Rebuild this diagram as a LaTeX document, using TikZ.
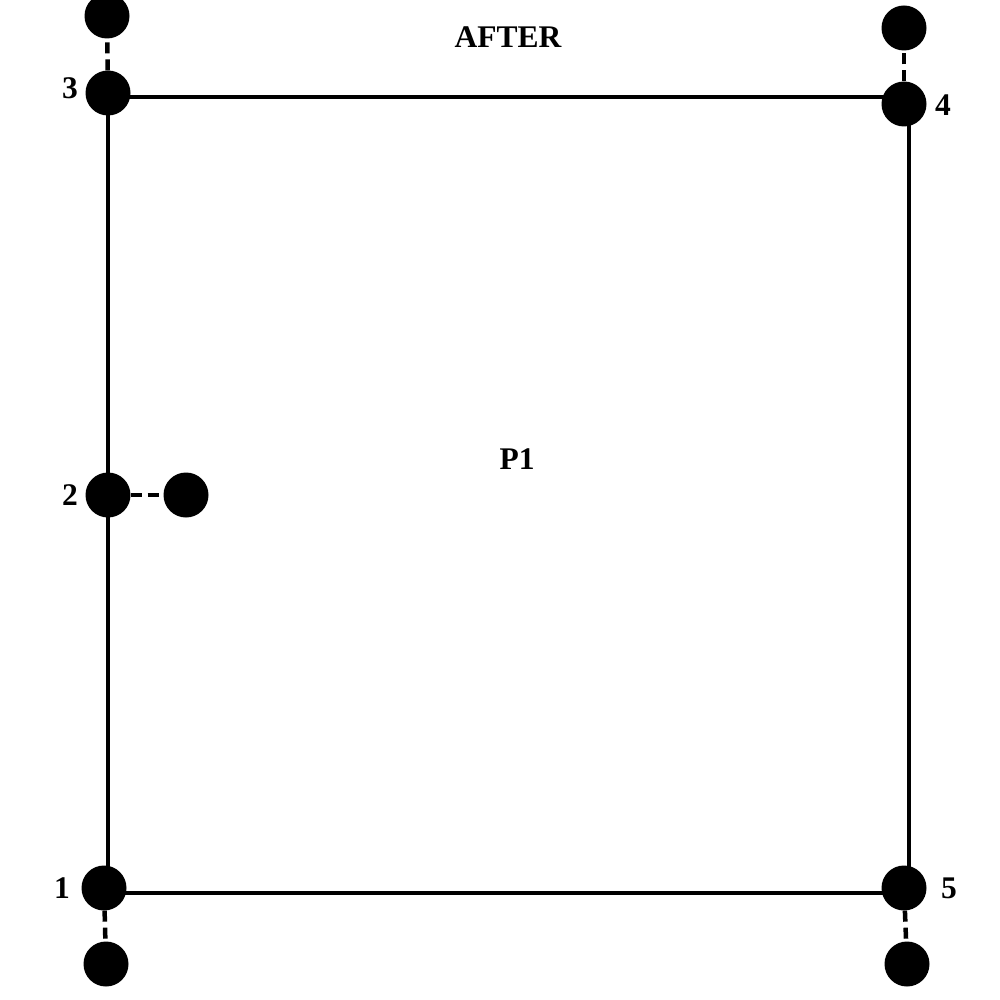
\documentclass[tikz,border=0pt]{standalone}
\usepackage{fontspec}
\setmainfont{Liberation Serif}
\begin{document}
\begin{tikzpicture}[x=1pt,y=-1pt,
  dot/.style={circle,fill=black,draw=none,minimum size=45pt,inner sep=0pt},
  lbl/.style={font=\fontsize{31.5}{34}\selectfont\bfseries,inner sep=0pt},
  edge/.style={line width=4.5pt},
  link/.style={line width=4.5pt,dash pattern=on 11pt off 6pt}]
\useasboundingbox (0,0) rectangle (1000,1000);
% frame corners
\coordinate (c1) at (108,893);
\coordinate (c3) at (108,97);
\coordinate (c4) at (909,97);
\coordinate (c5) at (909,893);
\draw[edge,line join=miter] (c1) -- (c3) -- (c4) -- (c5) -- cycle;
% main points
\node[dot] (n1) at (104,888) {};
\node[dot] (n2) at (108,495) {};
\node[dot] (n3) at (108,93) {};
\node[dot] (n4) at (904,104) {};
\node[dot] (n5) at (904,888) {};
% satellites
\node[dot] (s1) at (106,964) {};
\node[dot] (s2) at (186,495) {};
\node[dot] (s3) at (107,16) {};
\node[dot] (s4) at (904,28) {};
\node[dot] (s5) at (907,964) {};
\draw[link] (n1) -- (s1);
\draw[link] (n2) -- (s2);
\draw[link] (n3) -- (s3);
\draw[link] (n4) -- (s4);
\draw[link] (n5) -- (s5);
% labels
\node[lbl] (l1) at (62,888) {1};
\node[lbl] (l2) at (70,495) {2};
\node[lbl] (l3) at (70,88) {3};
\node[lbl] (l4) at (943,105) {4};
\node[lbl] (l5) at (949,888) {5};
\node[lbl] (title) at (508,37) {AFTER};
\node[lbl] (p1) at (517,459) {P1};
\end{tikzpicture}
\end{document}
